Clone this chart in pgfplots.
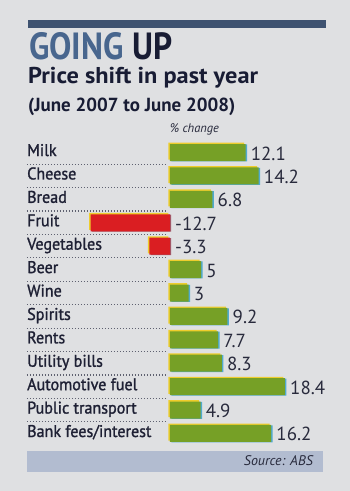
\documentclass[border=0pt]{standalone}
\usepackage{fontspec}
\setmainfont{PT Sans}
\newfontfamily\labelfont{PT Sans}[FakeBold=1.3, FakeStretch=0.95]
\usepackage{graphicx}
\usepackage{pgfplots}
\pgfplotsset{compat=1.18}
\usepackage{pgfplotstable}

\definecolor{paper}{RGB}{223,224,226}
\definecolor{rulecol}{RGB}{62,82,112}
\definecolor{titleblue}{RGB}{72,102,142}
\definecolor{navy}{RGB}{24,28,52}
\definecolor{labelcol}{RGB}{30,32,52}
\definecolor{numcol}{RGB}{40,42,60}
\definecolor{bargreen}{RGB}{118,160,38}
\definecolor{barred}{RGB}{218,30,34}
\definecolor{yedge}{RGB}{238,205,45}
\definecolor{cedge}{RGB}{80,170,205}
\definecolor{bandcol}{RGB}{178,188,208}
\definecolor{dotcol}{RGB}{95,97,112}

\pgfplotstableread{
i v lab
0 12.1 12.1
1 14.2 14.2
2 6.8 6.8
5 5 5
6 3 3
7 9.2 9.2
8 7.7 7.7
9 8.3 8.3
10 18.4 18.4
11 4.9 4.9
12 16.2 16.2
}\posdata

\pgfplotstableread{
i v z lab
3 -12.7 0 -12.7
4 -3.3 0 -3.3
}\negdata

\begin{document}
\begin{tikzpicture}
\path[use as bounding box, fill=paper] (0bp,0bp) rectangle (350bp,491bp);
\fill[rulecol] (28bp,463bp) rectangle (326bp,471bp);
\node[anchor=base west, inner sep=0pt] at (29bp,431bp)
  {\resizebox{143bp}{\height}{\fontsize{38}{38}\selectfont\bfseries{\color{titleblue}GOING} {\color{navy}UP}}};
\node[anchor=base west, inner sep=0pt, text=navy] at (28bp,407.5bp)
  {\resizebox{230bp}{\height}{\fontsize{23}{23}\selectfont\bfseries Price shift in past year}};
\node[anchor=base west, inner sep=0pt, text=navy] at (28bp,379bp)
  {\resizebox{207bp}{\height}{\fontsize{19}{19}\selectfont\bfseries (June 2007 to June 2008)}};
\node[anchor=base, inner sep=0pt, text=numcol] at (194.5bp,358bp)
  {\fontsize{12.5}{12.5}\selectfont\itshape \% change};
\fill[bandcol] (27bp,19bp) rectangle (323bp,40bp);
\node[anchor=base east, inner sep=0pt, text=numcol] at (313bp,26bp)
  {\fontsize{14}{14}\selectfont\itshape Source: ABS};

\begin{axis}[
  at={(88.75bp,45.8bp)}, anchor=south west,
  scale only axis, width=200bp, height=304.4bp,
  xmin=-13, xmax=19, ymin=-0.5, ymax=12.5, y dir=reverse,
  axis line style={draw=none}, major tick style={draw=none},
  xtick=\empty,
  ytick={0,...,12},
  yticklabels={Milk,Cheese,Bread,Fruit,Vegetables,Beer,Wine,Spirits,Rents,Utility bills,Automotive fuel,Public transport,Bank fees/interest},
  yticklabel style={anchor=base west, inner sep=0pt, xshift=-61.75bp, yshift=-3.5bp,
    font=\labelfont\fontsize{17}{17}\selectfont, text=labelcol},
  clip=false,
  bar width=17bp,
  every axis plot/.append style={bar shift=0pt},
]
% dotted separators
\draw[dotcol, line width=1.1bp, dash pattern=on 1.1bp off 1.9bp] (axis cs:-22.9,0.5) -- (axis cs:-0.6,0.5);
\draw[dotcol, line width=1.1bp, dash pattern=on 1.1bp off 1.9bp] (axis cs:-22.9,1.5) -- (axis cs:-0.6,1.5);
\draw[dotcol, line width=1.1bp, dash pattern=on 1.1bp off 1.9bp] (axis cs:-22.9,2.5) -- (axis cs:-0.6,2.5);
\draw[dotcol, line width=1.1bp, dash pattern=on 1.1bp off 1.9bp] (axis cs:-22.9,3.5) -- (axis cs:-0.6,3.5);
\draw[dotcol, line width=1.1bp, dash pattern=on 1.1bp off 1.9bp] (axis cs:-22.9,4.5) -- (axis cs:-0.6,4.5);
\draw[dotcol, line width=1.1bp, dash pattern=on 1.1bp off 1.9bp] (axis cs:-22.9,5.5) -- (axis cs:-0.6,5.5);
\draw[dotcol, line width=1.1bp, dash pattern=on 1.1bp off 1.9bp] (axis cs:-22.9,6.5) -- (axis cs:-0.6,6.5);
\draw[dotcol, line width=1.1bp, dash pattern=on 1.1bp off 1.9bp] (axis cs:-22.9,7.5) -- (axis cs:-0.6,7.5);
\draw[dotcol, line width=1.1bp, dash pattern=on 1.1bp off 1.9bp] (axis cs:-22.9,8.5) -- (axis cs:-0.6,8.5);
\draw[dotcol, line width=1.1bp, dash pattern=on 1.1bp off 1.9bp] (axis cs:-22.9,9.5) -- (axis cs:-0.6,9.5);
\draw[dotcol, line width=1.1bp, dash pattern=on 1.1bp off 1.9bp] (axis cs:-22.9,10.5) -- (axis cs:-0.6,10.5);
\draw[dotcol, line width=1.1bp, dash pattern=on 1.1bp off 1.9bp] (axis cs:-22.9,11.5) -- (axis cs:-0.6,11.5);

% misregistration edges
\addplot[xbar, fill=cedge, draw=none, xshift=1.4bp, yshift=-0.4bp] table[x=v,y=i] \posdata;
\addplot[xbar, fill=yedge, draw=none, xshift=-1.5bp, yshift=1.4bp] table[x=v,y=i] \posdata;
\addplot[xbar, fill=barred!60!cedge, draw=none, xshift=1.2bp, yshift=-0.4bp] table[x=v,y=i] \negdata;
\addplot[xbar, fill=yedge, draw=none, xshift=-1.5bp, yshift=1.4bp] table[x=v,y=i] \negdata;

% main bars
\addplot[xbar, fill=bargreen, draw=none,
  point meta=explicit symbolic,
  nodes near coords,
  nodes near coords style={anchor=base west, inner sep=0pt, xshift=5bp, yshift=-7.5bp,
    font=\fontsize{19}{19}\selectfont, text=numcol}]
  table[x=v,y=i,meta=lab] \posdata;
\addplot[xbar, fill=barred, draw=none] table[x=v,y=i] \negdata;

% labels of negative bars, next to zero
\addplot[draw=none, mark=none,
  point meta=explicit symbolic,
  nodes near coords,
  nodes near coords style={anchor=base west, inner sep=0pt, xshift=5bp, yshift=-7.5bp,
    font=\fontsize{19}{19}\selectfont, text=numcol}]
  table[x=z,y=i,meta=lab] \negdata;
\end{axis}
\end{tikzpicture}
\end{document}
